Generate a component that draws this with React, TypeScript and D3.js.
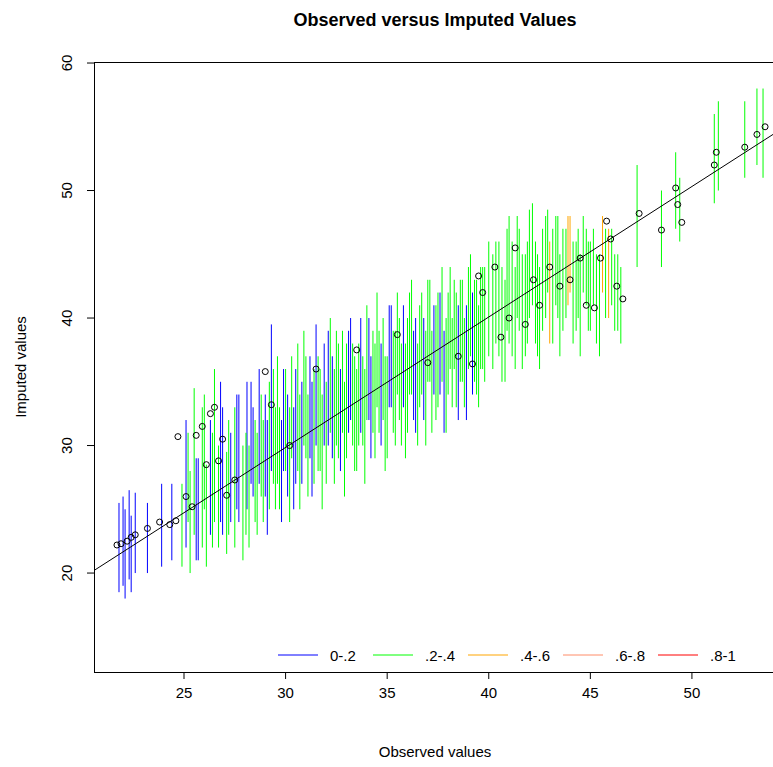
import React from 'react';
import * as d3 from 'd3';

// vertical intervals: observed x, low, high, group (0: 0-.2, 1: .2-.4, 2: .4-.6)
const segX = [21.8,22.0,22.1,22.3,22.4,22.6,23.2,23.9,24.4,24.9,25.1,25.3,25.5,25.7,25.9,26.1,26.3,26.5,26.7,26.9,27.1,27.3,27.5,27.7,27.9,
  28.1,28.2,28.4,28.6,28.7,28.9,29.0,29.2,29.3,29.5,29.6,29.8,30.0,30.1,30.3,30.4,30.6,30.8,30.9,31.1,31.2,31.4,31.5,31.7,31.9,32.0,32.2,32.3,32.5,32.7,32.8,33.0,33.2,33.3,33.5,33.7,33.8,34.0,34.2,34.3,34.5,34.7,34.8,35.0,35.2,35.3,35.5,35.7,35.8,36.0,36.2,36.3,36.5,36.7,36.8,37.0,37.2,37.3,37.5,37.7,37.8,38.0,38.2,38.3,38.5,38.7,38.8,39.0,39.2,39.3,39.5,39.7,
  40.2,40.5,40.8,41.0,41.3,41.5,41.8,42.0,42.3,42.5,42.8,43.0,43.3,43.5,43.8,44.0,44.3,44.5,44.8,45.0,45.3,45.6,45.9,46.2,46.5,
  47.3,48.5,49.2,49.4,51.1,51.3,52.6,53.2,53.5,
  25.2,25.6,26.0,26.4,26.8,27.2,27.6,
  28.05,28.3,28.5,28.8,29.1,29.4,29.7,29.9,30.2,30.5,30.7,31.0,31.3,31.6,31.8,32.1,32.4,32.6,32.9,33.1,33.4,33.6,33.9,34.1,34.4,34.6,34.9,35.1,35.4,35.6,35.9,36.1,36.4,36.6,36.9,37.1,37.4,37.6,37.9,38.1,38.4,38.6,38.9,39.1,39.4,39.6,39.8,40.0,
  40.35,40.65,40.9,41.15,41.4,41.65,41.9,42.15,42.4,42.65,42.9,43.15,43.4,43.65,43.9,44.15,44.4,44.65,44.9,45.15,45.45,45.75,46.05,46.35];
const segLo = [18.5,19,18,19.5,18.5,20,20,20.5,21,20.5,22,20,23,21,22,20.5,23,24,22,23,21.5,24,22,24,21,
  25,22,26,23,27,24,26,25,28,25,27,24,28,26,29,25,28,27,30,26,29,27,30,28,30,27,31,29,30,28,31,29,32,30,28,31,30,32,29,31,33,30,32,29,33,31,34,30,33,31,34,32,30,34,32,35,31,34,33,35,31,34,33,36,32,35,33,36,34,35,33,36,
  36,37,35,38,36,39,37,40,38,36,40,38,41,37,40,42,39,37,41,39,38,42,40,39,38,
  44,44,47,46,49,50,51,52,51,
  24,21,25,22,24,23,25,
  23,27,24,26,23,27,25,28,24,27,25,29,26,28,25,30,27,29,26,31,28,30,27,32,29,31,28,33,30,32,29,34,31,33,30,35,32,34,31,36,33,35,32,37,34,36,35,37,
  38,35,39,37,40,36,38,41,37,39,42,38,40,39,41,38,40,42,39,41,37,40,41,39];
const segHi = [25.5,26,25,26.5,24.5,26.3,25.5,27,27,27,32,28,34.5,29,33,28.5,32,36,30,33,29.5,31,33,34,30,
  35,30,33,31,36,32,34,35,39.5,33,37,32,36,34,37,33,38,35,39,34,37,36,39.5,36,38,35,40,37,39,36,39,38,40,38,36,40,37,41,37,39,42,38,40,37,41,39,42,38,41,40,43,39,38,42,40,43,39,41,42,44,39,42,40,43,41,43,40,44,42,43,41,44,
  45,46,43,48,44,47,45,48.5,46,44,48,46,48,45,47,48,46,45,47,46,45,48,47,45,44,
  52,50,53,51,56,57,57,58,58,
  31,29,34,31,35,32,34,
  31,35,32,34,32,36,33,36,33,36,34,37,35,37,34,39,36,38,35,39,37,38,36,40,38,39,37,41,39,40,38,42,40,41,39,43,41,42,40,44,42,43,41,45,43,44,44,46,
  46,44,47,46,48,45,46,49,45,47,48.5,47,48,47,48,46,47,48,46,47,45,47,47,45];
const segG = [0,0,0,0,0,0,0,0,0,1,0,1,1,0,1,1,0,1,1,0,1,0,1,0,1,
  0,1,0,1,0,1,0,1,0,1,1,0,1,0,1,0,1,0,1,1,0,1,0,1,0,1,1,0,1,0,1,1,0,1,1,0,1,1,0,1,1,0,1,1,0,1,1,1,0,1,1,0,1,1,0,1,1,0,1,1,0,1,1,1,0,1,1,1,0,1,1,1,
  1,1,1,1,1,1,1,1,1,1,1,2,1,1,1,2,1,1,1,1,1,2,2,1,1,
  1,1,1,1,1,1,1,1,1,
  1,0,1,1,0,1,0,
  1,0,1,1,0,1,1,0,1,0,1,1,0,1,1,0,1,1,1,0,1,1,1,0,1,1,1,0,1,1,1,1,0,1,1,1,1,0,1,1,1,1,0,1,1,1,1,1,
  1,1,1,1,1,1,1,1,1,1,1,1,1,1,2,1,1,1,1,1,1,1,1,1];

const ptX = [21.7,21.9,22.2,22.4,22.6,23.2,23.8,24.3,24.6,24.7,25.1,25.4,25.6,25.9,26.1,26.3,26.5,26.7,26.9,27.1,27.5,29.0,29.3,30.2,31.5,33.5,35.5,37.0,38.5,39.2,39.5,39.7,40.3,40.6,41.0,41.3,41.8,42.2,42.5,43.0,43.5,44.0,44.5,44.8,45.2,45.5,45.8,46.0,46.3,46.6,47.4,48.5,49.2,49.3,49.5,51.1,51.2,52.6,53.2,53.6];
const ptY = [22.2,22.3,22.5,22.8,23,23.5,24,23.8,24.1,30.7,26,25.2,30.8,31.5,28.5,32.5,33,28.8,30.5,26.1,27.3,35.8,33.2,30,36,37.5,38.7,36.5,37,36.4,43.3,42,44,38.5,40,45.5,39.5,43,41,44,42.5,43,44.7,41,40.8,44.7,47.6,46.2,42.5,41.5,48.2,46.9,50.2,48.9,47.5,52,53,53.4,54.4,55];

const xTicks = [25, 30, 35, 40, 45, 50];
const yTicks = [20, 30, 40, 50, 60];
const legendLabels = ['0-.2', '.2-.4', '.4-.6', '.6-.8', '.8-1'];
const groupColors = ['#0000FF', '#00FF00', '#FFA500', '#FF8C69', '#FF0000'];

export default () => {
  const L = 94, R = 773, T = 62, B = 672;
  const x = d3.scaleLinear().domain([20.57, 53.99]).range([L, R]);
  const y = d3.scaleLinear().domain([12.24, 60.08]).range([B, T]);
  const font = 'Arial, "Liberation Sans", sans-serif';

  return (
    <svg width={773} height={767} style={{ position: 'absolute', left: 0, top: 0 }} fontFamily={font}>
      <defs>
        <clipPath id="plotclip"><rect x={L} y={T} width={R - L} height={B - T} /></clipPath>
      </defs>
      <rect width={773} height={767} fill="#fff" />
      <text x={435} y={26} textAnchor="middle" fontSize={18} fontWeight="bold">Observed versus Imputed Values</text>
      <g clipPath="url(#plotclip)">
        {segX.map((v, i) => (
          <line key={i} x1={x(v)} x2={x(v)} y1={y(segLo[i])} y2={y(segHi[i])} stroke={groupColors[segG[i]]} strokeWidth={1} />
        ))}
        <line x1={x(20.57)} y1={y(20.2)} x2={x(53.99)} y2={y(54.4)} stroke="#000" strokeWidth={1} />
        {ptX.map((v, i) => (
          <circle key={i} cx={x(v)} cy={y(ptY[i])} r={3} fill="none" stroke="#000" strokeWidth={1} />
        ))}
      </g>
      <rect x={L + 0.5} y={T + 0.5} width={R - L} height={B - T} fill="none" stroke="#000" />
      {xTicks.map(t => (
        <g key={t}>
          <line x1={x(t)} x2={x(t)} y1={B} y2={B + 7} stroke="#000" />
          <text x={x(t)} y={B + 26} textAnchor="middle" fontSize={15}>{t}</text>
        </g>
      ))}
      {yTicks.map(t => (
        <g key={t}>
          <line x1={L - 7} x2={L} y1={y(t)} y2={y(t)} stroke="#000" />
          <text transform={`translate(${L - 22},${y(t)}) rotate(-90)`} textAnchor="middle" fontSize={15}>{t}</text>
        </g>
      ))}
      <text x={435} y={757} textAnchor="middle" fontSize={15}>Observed values</text>
      <text transform="translate(26,367) rotate(-90)" textAnchor="middle" fontSize={15}>Imputed values</text>
      {legendLabels.map((lab, i) => (
        <g key={lab}>
          <line x1={278 + i * 95} x2={318 + i * 95} y1={655} y2={655} stroke={groupColors[i]} />
          <text x={330 + i * 95} y={661} fontSize={15}>{lab}</text>
        </g>
      ))}
    </svg>
  );
};
